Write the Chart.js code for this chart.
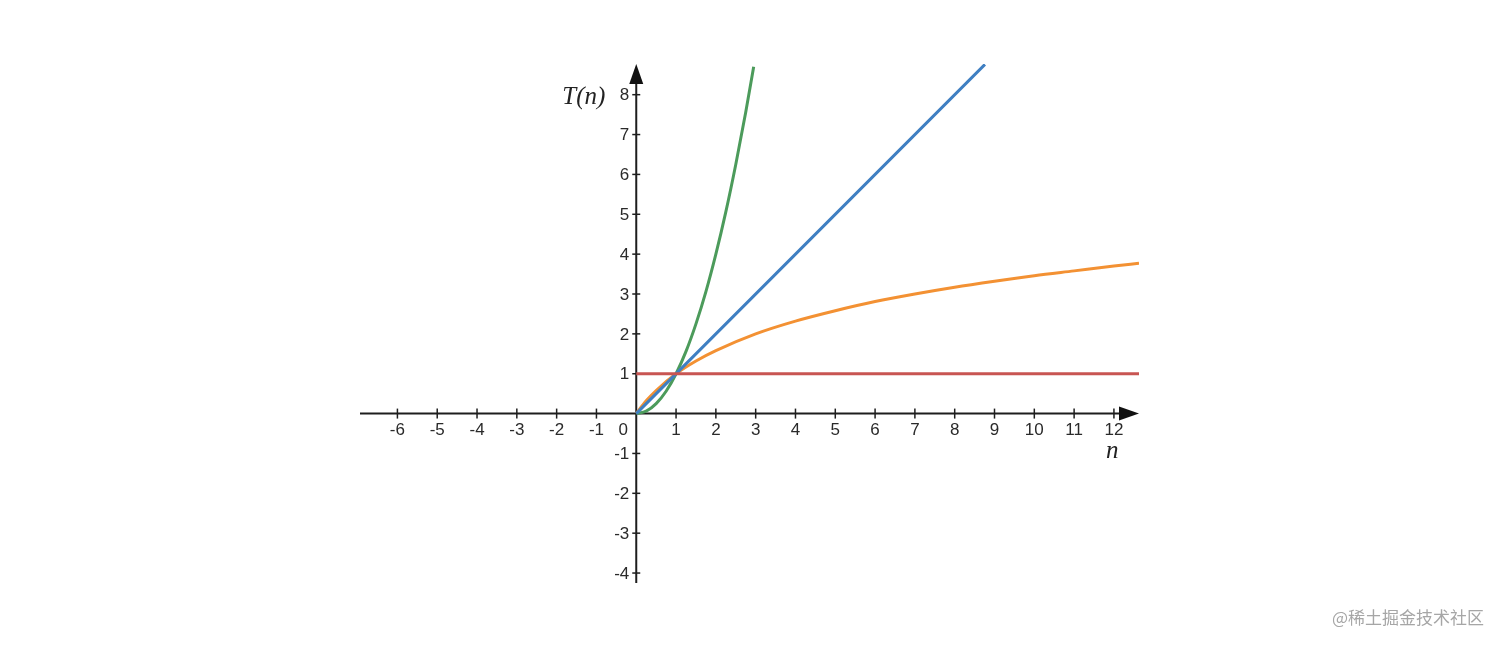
<!DOCTYPE html>
<html>
<head>
<meta charset="utf-8">
<style>
  html, body { margin: 0; padding: 0; background: #fff; }
  #wrap { position: relative; width: 1502px; height: 647px; }
  #mark { position: absolute; right: 18px; bottom: 18px; font: 17px "Noto Sans CJK SC", sans-serif; color: #a6a6a6; }
</style>
<script src="https://cdn.jsdelivr.net/npm/chart.js@4"></script>
</head>
<body>
<div id="wrap">
  <canvas id="chart" width="1502" height="647"></canvas>
  <div id="mark">@稀土掘金技术社区</div>
</div>
<script>
// axis extents and ticks
const xMin = -6.94, xMax = 12.63;
const yMin = -4.25, yMax = 8.77;
const xTicks = [-6, -5, -4, -3, -2, -1, 1, 2, 3, 4, 5, 6, 7, 8, 9, 10, 11, 12];
const yTicks = [-4, -3, -2, -1, 1, 2, 3, 4, 5, 6, 7, 8];

// curves
const constN = [0, 12.63];
const constT = [1, 1];

const linN = [0, 8.76];
const linT = [0, 8.76];

const logN = [0, 0.25, 0.5, 1, 1.5, 2, 3, 4, 5, 6, 7, 8, 9, 10, 11, 12, 12.63];
const logT = [0, 0.32, 0.58, 1, 1.32, 1.58, 2, 2.32, 2.58, 2.81, 3, 3.17, 3.32, 3.46, 3.58, 3.7, 3.77];

const sqN = [0, 0.25, 0.5, 0.75, 1, 1.25, 1.5, 1.75, 2, 2.25, 2.5, 2.75, 2.95];
const sqT = [0, 0.06, 0.25, 0.56, 1, 1.56, 2.25, 3.06, 4, 5.06, 6.25, 7.56, 8.7];

const toPts = (xs, ys) => xs.map((x, i) => ({ x: x, y: ys[i] }));

const axesPlugin = {
    id: 'axes',
    beforeDatasetsDraw(chart) {
        const ctx = chart.ctx;
        const xs = chart.scales.x, ys = chart.scales.y;
        const ox = xs.getPixelForValue(0), oy = ys.getPixelForValue(0);
        const left = xs.getPixelForValue(xMin), right = xs.getPixelForValue(xMax);
        const top = ys.getPixelForValue(yMax), bottom = ys.getPixelForValue(yMin);
        ctx.save();
        ctx.strokeStyle = '#1e1e1e';
        ctx.fillStyle = '#111';
        ctx.lineWidth = 2;

        // x axis with arrow
        ctx.beginPath();
        ctx.moveTo(left, oy);
        ctx.lineTo(right - 14, oy);
        ctx.stroke();
        ctx.beginPath();
        ctx.moveTo(right, oy);
        ctx.lineTo(right - 20, oy - 7);
        ctx.lineTo(right - 20, oy + 7);
        ctx.closePath();
        ctx.fill();

        // y axis with arrow
        ctx.beginPath();
        ctx.moveTo(ox, bottom);
        ctx.lineTo(ox, top + 14);
        ctx.stroke();
        ctx.beginPath();
        ctx.moveTo(ox, top);
        ctx.lineTo(ox - 7, top + 20);
        ctx.lineTo(ox + 7, top + 20);
        ctx.closePath();
        ctx.fill();

        ctx.lineWidth = 1.5;
        ctx.font = '17px "Liberation Sans", Arial, sans-serif';
        ctx.fillStyle = '#2a2a2a';

        // x ticks
        ctx.textAlign = 'center';
        ctx.textBaseline = 'top';
        xTicks.forEach(v => {
            const px = xs.getPixelForValue(v);
            ctx.beginPath();
            ctx.moveTo(px, oy - 5);
            ctx.lineTo(px, oy + 5);
            ctx.stroke();
            ctx.fillText(String(v), px, oy + 8);
        });
        ctx.fillText('0', ox - 13, oy + 8);

        // y ticks
        ctx.textAlign = 'right';
        ctx.textBaseline = 'middle';
        yTicks.forEach(v => {
            const py = ys.getPixelForValue(v);
            ctx.beginPath();
            ctx.moveTo(ox - 4, py);
            ctx.lineTo(ox + 4, py);
            ctx.stroke();
            ctx.fillText(String(v), ox - 7, py + 1);
        });

        // axis titles
        ctx.font = 'italic 25px "Liberation Serif", "Times New Roman", serif';
        ctx.fillStyle = '#222';
        ctx.textAlign = 'left';
        ctx.textBaseline = 'alphabetic';
        ctx.fillText('T(n)', ox - 74, ys.getPixelForValue(8) + 9);
        ctx.fillText('n', xs.getPixelForValue(12) - 8, oy + 44);
        ctx.restore();
    }
};

const line = (data, color) => ({
    data: data,
    borderColor: color,
    borderWidth: 3,
    pointRadius: 0,
    fill: false,
    cubicInterpolationMode: 'monotone'
});

new Chart(document.getElementById('chart'), {
    type: 'scatter',
    data: {
        datasets: [
            line(toPts(constN, constT), '#c85552'),
            line(toPts(linN, linT), '#3f7fc2'),
            line(toPts(sqN, sqT), '#4c9b5b'),
            line(toPts(logN, logT), '#f39133')
        ]
    },
    options: {
        responsive: false,
        animation: false,
        showLine: true,
        layout: { padding: { left: 360, right: 363, top: 64, bottom: 64 } },
        plugins: { legend: { display: false }, tooltip: { enabled: false } },
        scales: {
            x: { type: 'linear', min: xMin, max: xMax, display: false },
            y: { type: 'linear', min: yMin, max: yMax, display: false }
        }
    },
    plugins: [axesPlugin]
});
</script>
</body>
</html>
